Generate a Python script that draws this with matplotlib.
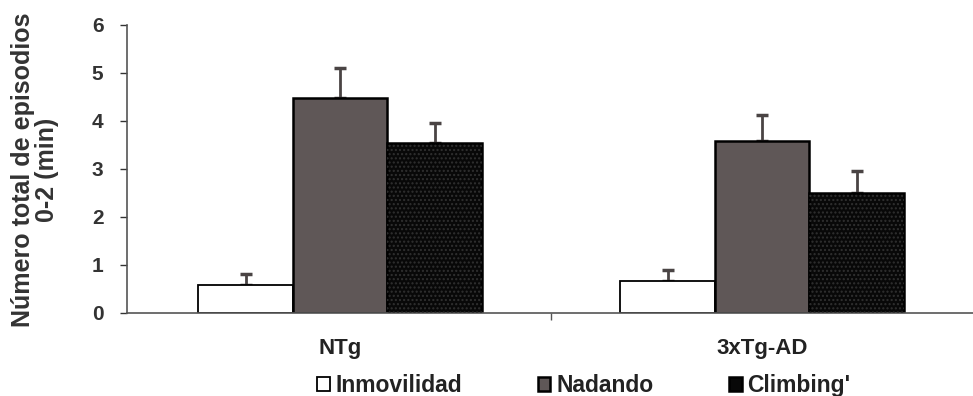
import numpy as np
import matplotlib.pyplot as plt

plt.rcParams['font.family'] = ['Liberation Sans', 'DejaVu Sans']

# episodios totales 0-2 min, media y error (solo barra superior)
grupos = ['NTg', '3xTg-AD']
conductas = ['Inmovilidad', 'Nadando', "Climbing'"]
inmovilidad = [0.58, 0.67]
nadando = [4.48, 3.58]
climbing = [3.54, 2.50]
err_inmovilidad = [0.23, 0.23]
err_nadando = [0.62, 0.54]
err_climbing = [0.42, 0.46]

colores = ['white', '#5f5757', '#080808']
medias = [inmovilidad, nadando, climbing]
errores = [err_inmovilidad, err_nadando, err_climbing]

fig = plt.figure(figsize=(9.73, 3.96), dpi=100)
ax = fig.add_axes([127/973, 83/396, 846/973, 288/396])

x = np.arange(len(grupos))
w = 0.224
for i in range(3):
    pos = x + (i - 1) * w
    ax.bar(pos, medias[i], width=w, color=colores[i], edgecolor='black',
           linewidth=1.8 if i else 1.3, label=conductas[i], zorder=2)
    if i == 2:
        # textura punteada de las barras negras
        ax.bar(pos, medias[i], width=w, color='none', edgecolor='#303030',
               hatch='....', linewidth=0, zorder=3)
    ax.errorbar(pos, medias[i], yerr=[np.zeros(2), errores[i]], fmt='none',
                ecolor='#4a4444', elinewidth=2, capsize=4, capthick=2.5, zorder=1)

ax.set_xlim(-0.505, 1.5)
ax.set_ylim(0, 6)
ax.set_yticks(range(7))
ax.set_yticklabels([str(v) for v in range(7)], fontsize=15, fontweight='bold')
ax.tick_params(axis='y', length=5, width=1, direction='out', pad=12,
               colors='#333333')
ax.set_xticks(x)
ax.set_xticklabels(grupos, fontsize=16, fontweight='bold')
ax.tick_params(axis='x', length=0, pad=18, labelcolor='#222222')
ax.set_xticks([0.5], minor=True)
ax.tick_params(axis='x', which='minor', length=5, width=1, color='#555555')

for s in ['top', 'right']:
    ax.spines[s].set_visible(False)
for s in ['left', 'bottom']:
    ax.spines[s].set_color('#555555')
    ax.spines[s].set_linewidth(1.2)

fig.text(0.036, 0.571, 'Número total de episodios\n0-2 (min)', rotation=90,
         ha='center', va='center', fontsize=18, fontweight='bold',
         color='#333333', linespacing=1.0)

leg = fig.legend(loc='lower center', bbox_to_anchor=(0.6, -0.055), ncol=3,
                 frameon=False, prop={'size': 16.5, 'weight': 'bold'},
                 handlelength=0.55, handleheight=0.55, handletextpad=0.25,
                 columnspacing=3.3)
for t in leg.get_texts():
    t.set_color('#222222')

fig.savefig('out.png', dpi=100)
